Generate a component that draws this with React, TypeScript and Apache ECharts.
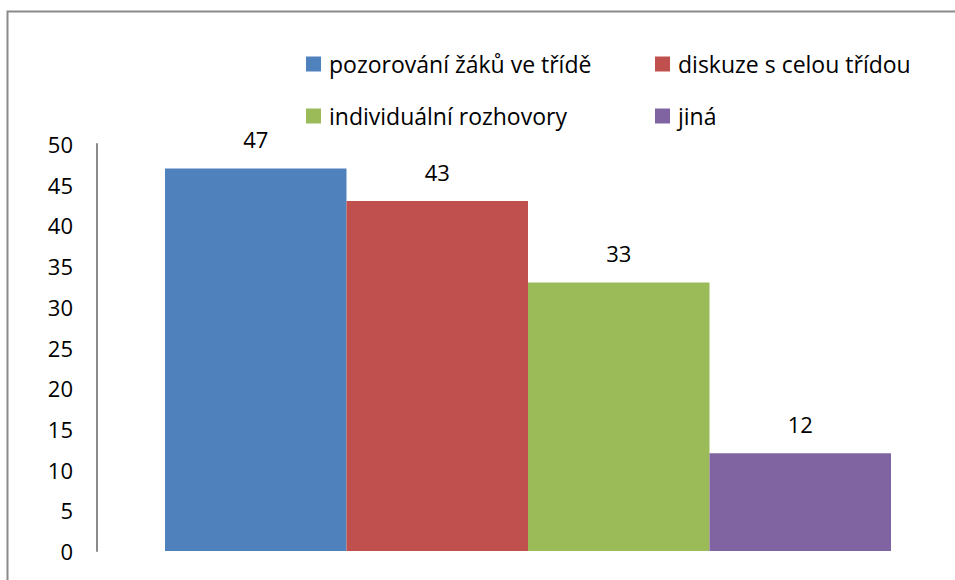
import React, { useEffect, useRef } from "react";
import * as echarts from "echarts";

const categories = [""];
const seriesNames = [
  "pozorování žáků ve třídě",
  "diskuze s celou třídou",
  "individuální rozhovory",
  "jiná",
];
const seriesValues = [47, 43, 33, 12];
const seriesColors = ["#4F81BD", "#C0504D", "#9BBB59", "#8064A2"];
const yMin = 0;
const yMax = 50;
const yInterval = 5;

export default function App() {
  const ref = useRef<HTMLDivElement>(null);
  useEffect(() => {
    if (!ref.current) return;
    const chart = echarts.init(ref.current, undefined, { renderer: "svg" });
    const font = "'Open Sans', 'Liberation Sans', Arial, sans-serif";
    const legendText = {
      fontSize: 23,
      color: "#000",
      fontFamily: font,
      lineHeight: 24,
      padding: [0, 0, 0, 3],
    };
    chart.setOption({
      animation: false,
      backgroundColor: "#fff",
      textStyle: { fontFamily: font },
      graphic: [
        {
          type: "rect",
          shape: { x: 7.5, y: 11.5, width: 970, height: 600 },
          style: { fill: "none", stroke: "#8a8a8a", lineWidth: 2 },
          silent: true,
        },
      ],
      legend: [
        {
          data: [seriesNames[0], seriesNames[2]],
          orient: "vertical",
          left: 301,
          top: 47,
          itemWidth: 15,
          itemHeight: 15,
          itemGap: 28,
          icon: "rect",
          textStyle: legendText,
        },
        {
          data: [seriesNames[1], seriesNames[3]],
          orient: "vertical",
          left: 650,
          top: 47,
          itemWidth: 15,
          itemHeight: 15,
          itemGap: 28,
          icon: "rect",
          textStyle: legendText,
        },
      ],
      grid: { left: 97, top: 144, right: 0, height: 407, containLabel: false },
      xAxis: {
        type: "category",
        data: categories,
        axisLine: { show: false },
        axisTick: { show: false },
        axisLabel: { show: false },
      },
      yAxis: {
        type: "value",
        min: yMin,
        max: yMax,
        interval: yInterval,
        splitLine: { show: false },
        axisTick: { show: false },
        axisLine: { show: true, lineStyle: { color: "#8a8a8a", width: 2 } },
        axisLabel: { fontSize: 22, color: "#000", margin: 24, fontFamily: font },
      },
      series: seriesNames.map((name, i) => ({
        name,
        type: "bar",
        data: [seriesValues[i]],
        barWidth: 181.5,
        barGap: "0%",
        itemStyle: { color: seriesColors[i] },
        label: {
          show: true,
          position: "top",
          distance: 18,
          fontSize: 22,
          color: "#000",
          fontFamily: font,
        },
      })),
    });
    return () => chart.dispose();
  }, []);
  return (
    <div
      ref={ref}
      style={{ position: "fixed", left: 0, top: 0, width: 959, height: 580 }}
    />
  );
}
